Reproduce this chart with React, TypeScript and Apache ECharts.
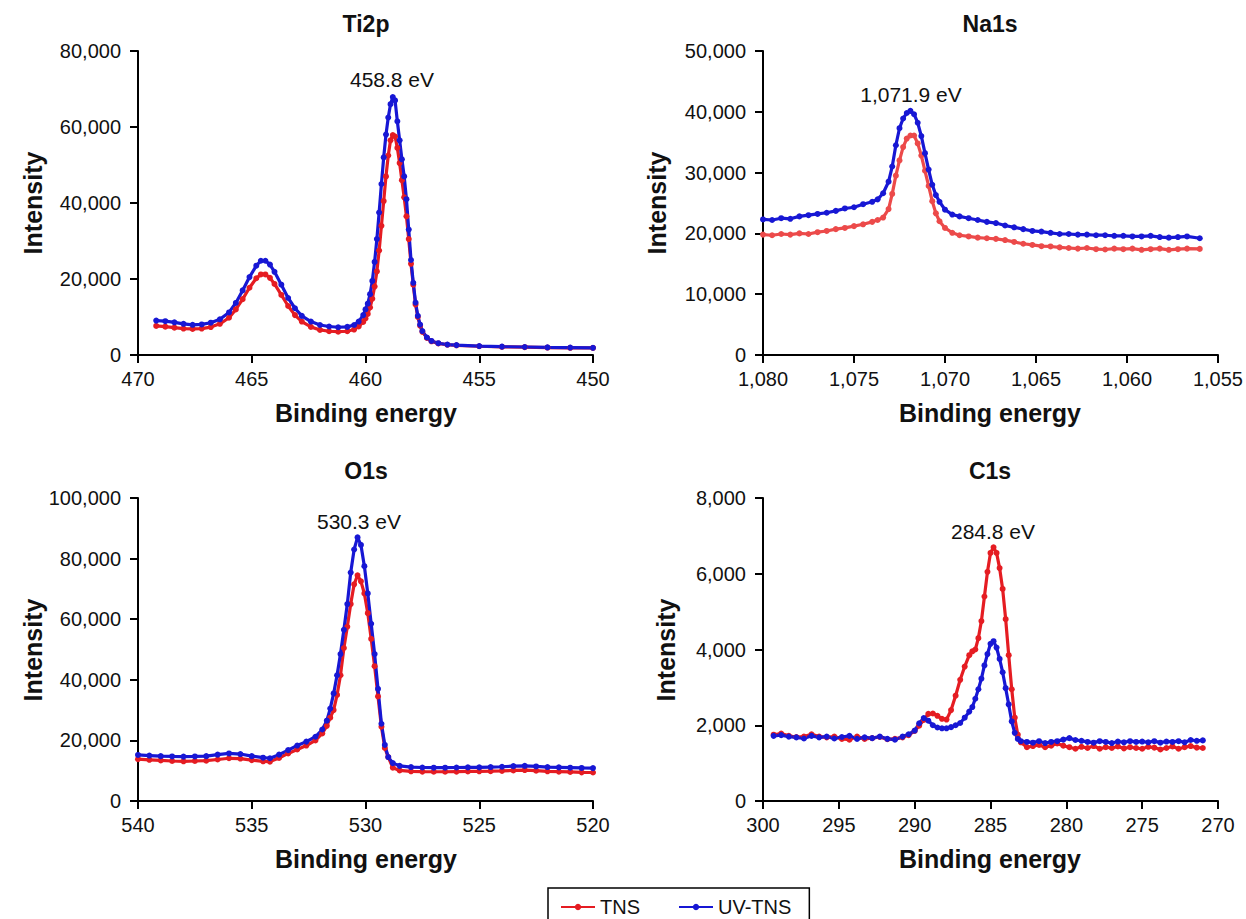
import React, { useEffect, useRef } from "react";
import * as echarts from "echarts";

// ---------- Ti2p ----------
const tiE = [469.2, 468.8, 468.4, 468.0, 467.6, 467.2, 466.8, 466.4, 466.0,
  465.7, 465.4, 465.1, 464.8, 464.6, 464.4, 464.2, 464.0,
  463.7, 463.4, 463.1, 462.8, 462.4, 462.0, 461.6, 461.2, 460.8, 460.5, 460.3, 460.1,
  460.0, 459.9, 459.8, 459.7, 459.6, 459.5, 459.4, 459.3, 459.2, 459.1, 459.0, 458.9, 458.8, 458.7, 458.6, 458.5, 458.4, 458.3, 458.2, 458.1, 458.0, 457.9, 457.8, 457.7, 457.6, 457.5,
  457.3, 457.1, 456.8, 456.4, 456.0,
  455.0, 454.0, 453.0, 452.0, 451.0, 450.0];
const tiUV = [9050, 8900, 8600, 8200, 7950, 8050, 8500, 9400, 11200,
  13700, 17000, 20500, 23500, 24800, 24800, 23800, 21900,
  18500, 15000, 12300, 10300, 8800, 7900, 7500, 7300, 7400, 7900, 8800, 10500,
  12000, 13500, 16000, 19500, 24500, 30500, 37500, 45000, 52000, 58000, 62500, 66000, 67900, 67000, 61500, 56500, 51500, 47000, 41000, 33000, 25000, 19000, 13800, 10300, 8000, 6300,
  4600, 3700, 3100, 2750, 2600,
  2350, 2200, 2100, 2000, 1950, 1900];
const tiTNS = [7650, 7450, 7200, 6950, 6850, 6950, 7350, 8200, 9800,
  12000, 14700, 17700, 20200, 21200, 21200, 20300, 18700,
  15800, 12900, 10500, 8800, 7400, 6600, 6250, 6150, 6250, 6700, 7500, 8700,
  9600, 10800, 12500, 14800, 18000, 22000, 27500, 34000, 40500, 47000, 52500, 56500, 57900, 57500, 54500, 50500, 46000, 41500, 36500, 30500, 24000, 18500, 13300, 10000, 7700, 6100,
  4500, 3600, 3050, 2700, 2550,
  2300, 2150, 2050, 1950, 1900, 1850];

// ---------- Na1s ----------
const naE = [1080.0, 1079.5, 1079.0, 1078.5, 1078.0, 1077.5, 1077.0, 1076.5, 1076.0, 1075.5, 1075.0, 1074.5, 1074.0,
  1073.7, 1073.4, 1073.1, 1072.9, 1072.7, 1072.5, 1072.3, 1072.1, 1071.9, 1071.7, 1071.5, 1071.3, 1071.1, 1070.9, 1070.7, 1070.5, 1070.3, 1070.0,
  1069.6, 1069.2, 1068.7, 1068.2, 1067.7, 1067.2, 1066.7, 1066.2, 1065.7, 1065.2, 1064.7, 1064.2, 1063.7, 1063.2, 1062.7, 1062.2, 1061.7, 1061.2, 1060.7, 1060.2, 1059.7, 1059.2, 1058.7, 1058.2, 1057.7, 1057.2, 1056.7, 1056.0];
const naUV = [22300, 22200, 22500, 22400, 22800, 23000, 23200, 23400, 23700, 24100, 24300, 24800, 25200,
  25600, 26600, 28500, 31000, 34500, 37300, 38900, 39800, 40150, 39600, 38200, 36000, 33200, 30500, 28000, 26300, 25200, 23900,
  23100, 22800, 22500, 22200, 21900, 21700, 21300, 21000, 20700, 20400, 20300, 20100, 19900, 19900, 19800, 19800, 19700, 19700, 19600, 19600, 19500, 19500, 19600, 19400, 19300, 19400, 19500, 19200];
const naTNS = [19800, 19700, 19900, 19800, 20000, 19900, 20200, 20400, 20700, 20900, 21200, 21500, 21900,
  22200, 22600, 24000, 26500, 29500, 32000, 34200, 35600, 36100, 36100, 34800, 32800, 30300, 27800, 25300, 23300, 22000, 20900,
  20100, 19700, 19500, 19300, 19200, 19100, 18900, 18600, 18300, 18100, 17900, 17850, 17700, 17600, 17500, 17600, 17400, 17350, 17500, 17400, 17500, 17300, 17400, 17500, 17300, 17400, 17500, 17450];

// ---------- O1s ----------
const oE = [540.0, 539.5, 539.0, 538.5, 538.0, 537.5, 537.0, 536.5, 536.0, 535.5, 535.0, 534.5, 534.2, 533.8, 533.4, 533.0, 532.6, 532.2, 531.9, 531.7,
  531.55, 531.4, 531.25, 531.1, 530.95, 530.8, 530.65, 530.5, 530.35, 530.2, 530.05, 529.9, 529.75, 529.6, 529.45, 529.3, 529.15, 529.0, 528.8, 528.5,
  528.0, 527.5, 527.0, 526.5, 526.0, 525.5, 525.0, 524.5, 524.0, 523.5, 523.0, 522.5, 522.0, 521.5, 521.0, 520.5, 520.0];
const oUV = [15200, 15000, 14800, 14700, 14650, 14700, 14800, 15300, 15700, 15500, 14800, 14300, 14100, 15300, 16800, 18300, 19600, 21200, 23600, 26500,
  30500, 35500, 41500, 48500, 56500, 65000, 75400, 83000, 87000, 84500, 77500, 68500, 58500, 48500, 37000, 25500, 18500, 14500, 12500, 11600,
  11200, 11050, 11000, 11000, 11050, 11100, 11100, 11200, 11300, 11500, 11600, 11400, 11200, 11100, 11000, 10900, 10850];
const oTNS = [13800, 13600, 13400, 13200, 13100, 13200, 13300, 13700, 14100, 14000, 13500, 13100, 13000, 14200, 15700, 17000, 18300, 20000, 22300, 24800,
  27500, 30000, 35000, 41500, 50500, 57500, 65000, 71500, 74500, 72500, 68500, 62000, 53500, 44500, 34500, 24500, 17500, 14500, 11000, 10100,
  9800, 9700, 9650, 9650, 9700, 9750, 9800, 9850, 9950, 10100, 10200, 10000, 9800, 9700, 9600, 9450, 9400];

// ---------- C1s ----------
const cE = [299.3, 298.8, 298.3, 297.8, 297.3, 296.8, 296.3, 295.8, 295.3, 294.8, 294.3, 293.8, 293.3, 292.8, 292.3, 291.8, 291.3, 290.8,
  290.4, 290.0, 289.7, 289.4, 289.1, 288.8, 288.5, 288.2, 287.9, 287.6, 287.3, 287.0, 286.7, 286.4,
  286.2, 286.0, 285.8, 285.6, 285.4, 285.2, 285.0, 284.8, 284.6, 284.4, 284.2, 284.0, 283.8, 283.6, 283.4, 283.2, 283.0,
  282.6, 282.2, 281.8, 281.4, 281.0, 280.6, 280.2, 279.8, 279.4, 279.0, 278.6, 278.2, 277.8, 277.4, 277.0, 276.6, 276.2, 275.8, 275.4, 275.0, 274.6, 274.2, 273.8, 273.4, 273.0, 272.6, 272.2, 271.8, 271.4, 271.0];
const cUV = [1720, 1740, 1700, 1680, 1650, 1720, 1680, 1700, 1650, 1690, 1720, 1640, 1680, 1660, 1700, 1640, 1620, 1700,
  1760, 1860, 2050, 2190, 2120, 2000, 1940, 1920, 1920, 1950, 2000, 2060, 2200, 2360,
  2480, 2700, 2950, 3230, 3580, 3880, 4150, 4220, 4050, 3750, 3400, 2980, 2550, 2100, 1800, 1640, 1580,
  1560, 1540, 1580, 1530, 1560, 1580, 1620, 1660, 1610, 1590, 1560, 1540, 1580, 1560, 1530, 1570, 1550, 1580, 1560, 1570, 1550, 1580, 1540, 1570, 1560, 1580, 1550, 1610, 1590, 1600];
const cTNS = [1750, 1780, 1720, 1690, 1700, 1760, 1700, 1680, 1700, 1640, 1620, 1700, 1640, 1660, 1690, 1630, 1640, 1680,
  1740, 1850, 1990, 2140, 2300, 2310, 2250, 2170, 2150, 2400, 2780, 3200, 3550, 3850,
  3950, 4000, 4300, 4750, 5400, 6050, 6550, 6700, 6550, 6150, 5600, 4800, 3850, 2950, 2200, 1750, 1550,
  1420, 1450, 1480, 1420, 1460, 1520, 1460, 1420, 1380, 1430, 1400, 1450, 1380, 1420, 1400, 1440, 1390, 1420, 1400, 1380, 1430, 1410, 1360, 1400, 1440, 1380, 1420, 1450, 1410, 1400];

// ---------- panel texts & axis ranges ----------
const panelTitles = ["Ti2p", "Na1s", "O1s", "C1s"];
const peakLabels = ["458.8 eV", "1,071.9 eV", "530.3 eV", "284.8 eV"];
const xMins = [450, 1055, 520, 270];
const xMaxs = [470, 1080, 540, 300];
const yMaxs = [80000, 50000, 100000, 8000];
const yIntervals = [20000, 10000, 20000, 2000];
const seriesNames = ["TNS", "UV-TNS"];
const xName = "Binding energy";
const yName = "Intensity";

const FONT = '"Liberation Sans", Arial, Helvetica, sans-serif';
const RED = "#e51c22";
const RED_NA = "#ec4a4a";
const BLUE = "#1717d4";

function fmt(v: number): string {
  return String(v).replace(/\B(?=(\d{3})+(?!\d))/g, ",");
}

const grids = [
  { left: 138, top: 51, width: 455, height: 304 },
  { left: 763, top: 51, width: 455, height: 304 },
  { left: 138, top: 498, width: 455, height: 303 },
  { left: 763, top: 498, width: 455, height: 303 },
];

const titlePos = [[366, 24], [990, 24], [366, 471], [990, 471]];
const xNamePos = [[366, 413], [990, 413], [366, 859], [990, 859]];
const yNamePos = [[33, 203], [657, 203], [33, 650], [666, 650]];
const peakPos = [[392, 79], [911, 94], [359, 521], [993, 531]];

function pairs(xs: number[], ys: number[]) {
  return xs.map((x, i) => [x, ys[i]]);
}

export default function App() {
  const ref = useRef<HTMLDivElement>(null);
  useEffect(() => {
    if (!ref.current) return;
    const chart = echarts.init(ref.current, undefined, { renderer: "svg" });

    const panels = [
      { e: tiE, tns: tiTNS, uv: tiUV, red: RED },
      { e: naE, tns: naTNS, uv: naUV, red: RED_NA },
      { e: oE, tns: oTNS, uv: oUV, red: RED },
      { e: cE, tns: cTNS, uv: cUV, red: RED },
    ];

    const axisLine = { show: true, onZero: false, lineStyle: { color: "#000", width: 2 } };
    const axisTick = { show: true, length: 8, lineStyle: { color: "#000", width: 2 } };

    const xAxis = grids.map((_, i) => ({
      type: "value",
      gridIndex: i,
      min: xMins[i],
      max: xMaxs[i],
      interval: 5,
      inverse: true,
      axisLine,
      axisTick,
      splitLine: { show: false },
      axisLabel: {
        formatter: (v: number) => fmt(v),
        fontSize: 20,
        color: "#111",
        fontFamily: FONT,
        margin: 14,
        showMinLabel: true,
        showMaxLabel: true,
      },
    }));

    const yAxis = grids.map((_, i) => ({
      type: "value",
      gridIndex: i,
      min: 0,
      max: yMaxs[i],
      interval: yIntervals[i],
      axisLine,
      axisTick,
      splitLine: { show: false },
      axisLabel: {
        formatter: (v: number) => fmt(v),
        fontSize: 20,
        color: "#111",
        fontFamily: FONT,
        margin: 17,
        showMinLabel: true,
        showMaxLabel: true,
      },
    }));

    const series: any[] = [];
    panels.forEach((p, i) => {
      [
        { name: seriesNames[0], data: pairs(p.e, p.tns), color: p.red },
        { name: seriesNames[1], data: pairs(p.e, p.uv), color: BLUE },
      ].forEach((s) => {
        series.push({
          type: "line",
          name: s.name,
          xAxisIndex: i,
          yAxisIndex: i,
          data: s.data,
          symbol: "circle",
          symbolSize: 6,
          showSymbol: true,
          showAllSymbol: true,
          lineStyle: { color: s.color, width: 3.2 },
          itemStyle: { color: s.color },
          emphasis: { disabled: true },
        });
      });
    });

    const graphic: any[] = [];
    const mkText = (text: string, x: number, y: number, size: number, weight: string, rotation = 0) => ({
      type: "text",
      x,
      y,
      rotation,
      silent: true,
      style: {
        text,
        fontSize: size,
        fontWeight: weight,
        fontFamily: FONT,
        fill: "#111",
        textAlign: "center",
        textVerticalAlign: "middle",
        align: "center",
        verticalAlign: "middle",
      },
    });
    for (let i = 0; i < 4; i++) {
      graphic.push(mkText(panelTitles[i], titlePos[i][0], titlePos[i][1], 23, "bold"));
      graphic.push(mkText(xName, xNamePos[i][0], xNamePos[i][1], 25, "bold"));
      graphic.push(mkText(yName, yNamePos[i][0], yNamePos[i][1], 25, "bold", Math.PI / 2));
      graphic.push(mkText(peakLabels[i], peakPos[i][0], peakPos[i][1], 21, "normal"));
    }

    chart.setOption({
      animation: false,
      backgroundColor: "#fff",
      grid: grids,
      xAxis,
      yAxis,
      series,
      graphic,
      legend: {
        show: true,
        data: seriesNames,
        left: 548,
        top: 888,
        orient: "horizontal",
        itemWidth: 34,
        itemHeight: 8,
        itemGap: 38,
        padding: [9, 18, 15, 12],
        borderColor: "#000",
        borderWidth: 1.5,
        textStyle: { fontSize: 20, color: "#111", fontFamily: FONT },
      },
    });
    return () => chart.dispose();
  }, []);

  return (
    <div
      ref={ref}
      style={{ position: "absolute", left: 0, top: 0, width: 1246, height: 919, background: "#fff" }}
    />
  );
}
